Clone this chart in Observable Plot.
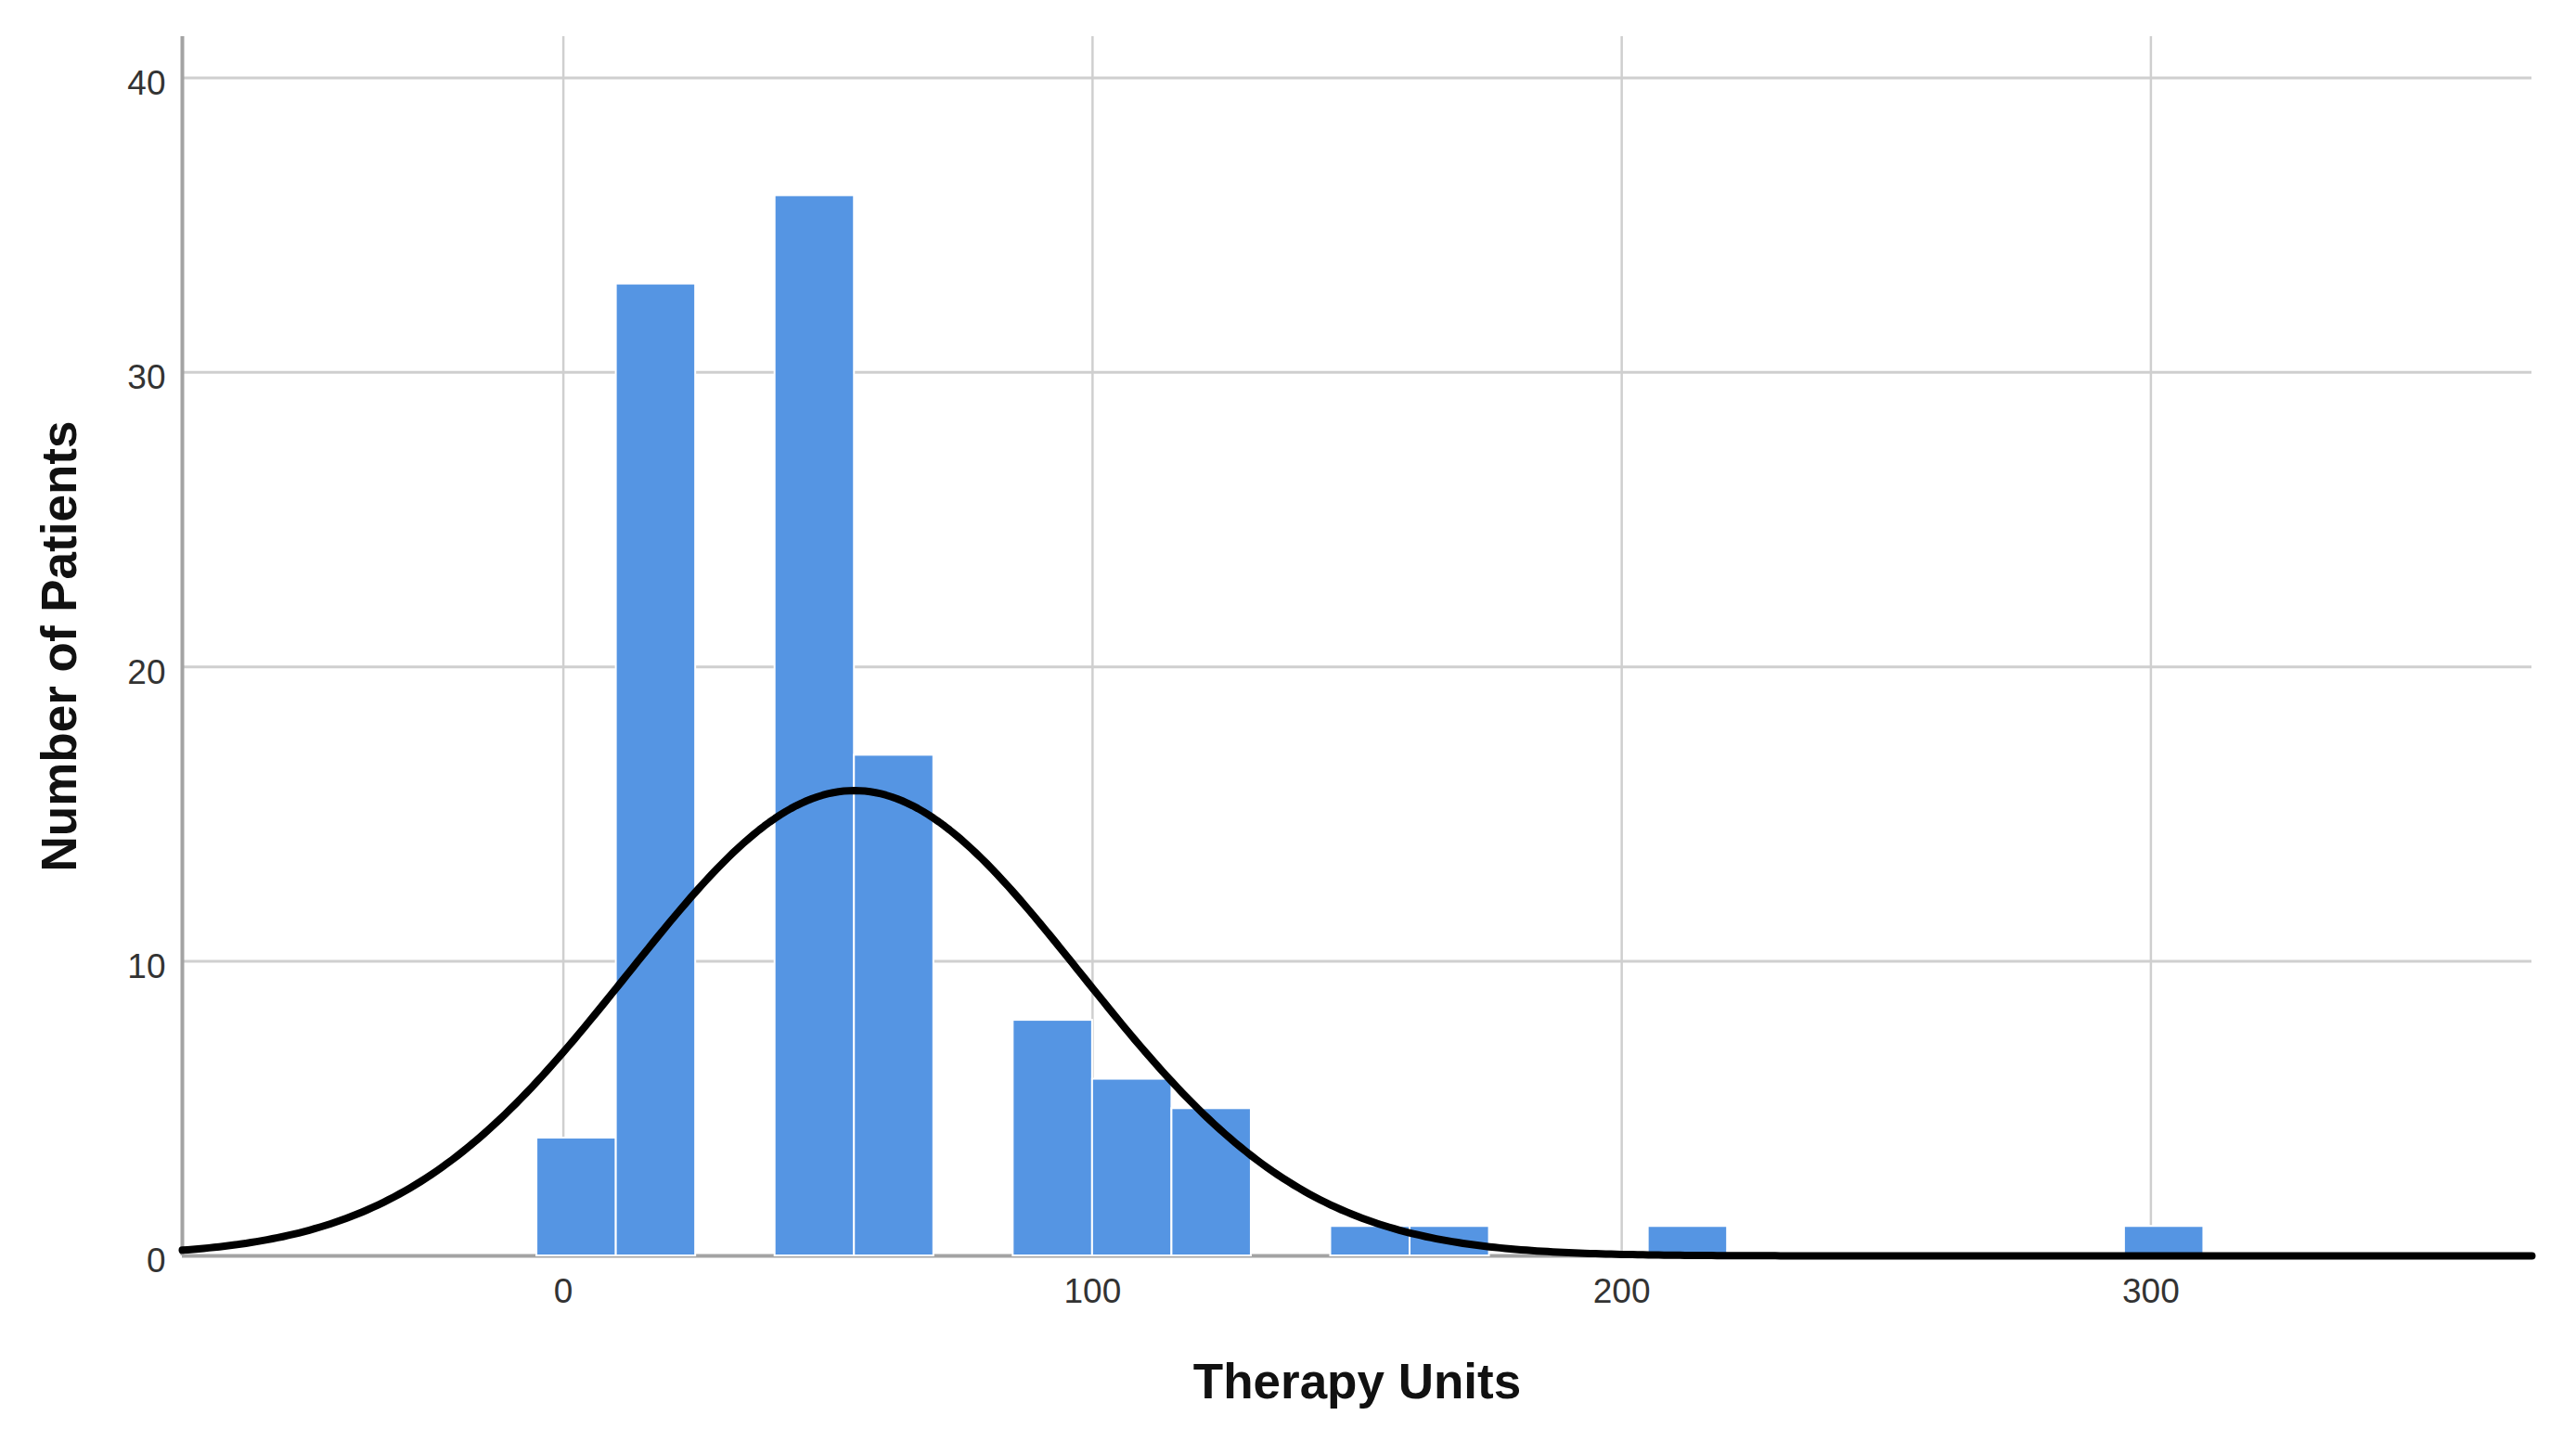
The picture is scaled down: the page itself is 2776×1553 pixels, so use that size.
<!DOCTYPE html>
<html>
<head>
<meta charset="utf-8">
<script src="https://cdn.jsdelivr.net/npm/d3@7"></script>
<script src="https://cdn.jsdelivr.net/npm/@observablehq/plot@0.6"></script>
<style>
  html, body { margin: 0; padding: 0; background: #ffffff; }
  #chart svg { display: block; }
</style>
</head>
<body>
<div id="chart"></div>
<script>
// ---- data ----
const binLow = [-5, 10, 40, 55, 85, 100, 115, 145, 160, 205, 295];
const binHigh = [10, 25, 55, 70, 100, 115, 130, 160, 175, 220, 310];
const patientCounts = [4, 33, 36, 17, 8, 6, 5, 1, 1, 1, 1];
const xTicks = [0, 100, 200, 300];
const yTicks = [0, 10, 20, 30, 40];
const xDomain = [-72, 372];
const yDomain = [0, 41.4];
// fitted normal curve parameters
const normalMean = 55;
const normalSD = 42.8;
const binWidth = 15;
const xLabel = "Therapy Units";
const yLabel = "Number of Patients";

// ---- derived tables ----
const bins = binLow.map((lo, i) => ({x1: lo, x2: binHigh[i], count: patientCounts[i]}));
const total = d3.sum(patientCounts);
const scaleFactor = total * binWidth / (normalSD * Math.sqrt(2 * Math.PI));
const curve = d3.range(xDomain[0], xDomain[1] + 0.5, 1).map(x => ({
  x,
  y: scaleFactor * Math.exp(-((x - normalMean) ** 2) / (2 * normalSD ** 2))
}));

const FONT = "'Liberation Sans', Arial, Helvetica, sans-serif";

const chart = Plot.plot({
  width: 2776,
  height: 1553,
  marginLeft: 196,
  marginRight: 48,
  marginTop: 39,
  marginBottom: 200,
  style: {fontFamily: FONT, background: "#ffffff", overflow: "visible"},
  x: {domain: xDomain},
  y: {domain: yDomain},
  marks: [
    Plot.gridX(xTicks, {stroke: "#cfcfcf", strokeOpacity: 1, strokeWidth: 2.5}),
    Plot.gridY(yTicks.filter(d => d > 0), {stroke: "#cfcfcf", strokeOpacity: 1, strokeWidth: 3}),
    Plot.ruleX([xDomain[0]], {stroke: "#a3a3a3", strokeWidth: 4}),
    Plot.ruleY([yDomain[0]], {stroke: "#a3a3a3", strokeWidth: 4}),
    Plot.rectY(bins, {x1: "x1", x2: "x2", y: "count", fill: "#5595e3", stroke: "#ffffff", strokeWidth: 2}),
    Plot.line(curve, {x: "x", y: "y", stroke: "#000000", strokeWidth: 8, curve: "linear"}),
    Plot.axisX(xTicks, {tickSize: 0, tickPadding: 24, fontSize: 37, fill: "#333333", label: null}),
    Plot.axisY(yTicks, {tickSize: 0, tickPadding: 18, fontSize: 37, fill: "#333333", label: null, dy: 6}),
    Plot.text([xLabel], {text: d => d, frameAnchor: "bottom", textAnchor: "middle", lineAnchor: "middle", dy: 137, fontSize: 53, fontWeight: "bold", fill: "#111111"}),
    Plot.text([yLabel], {text: d => d, frameAnchor: "left", textAnchor: "middle", lineAnchor: "middle", rotate: -90, dx: -131, fontSize: 53, fontWeight: "bold", fill: "#111111"})
  ]
});

document.getElementById("chart").appendChild(chart);
</script>
</body>
</html>
